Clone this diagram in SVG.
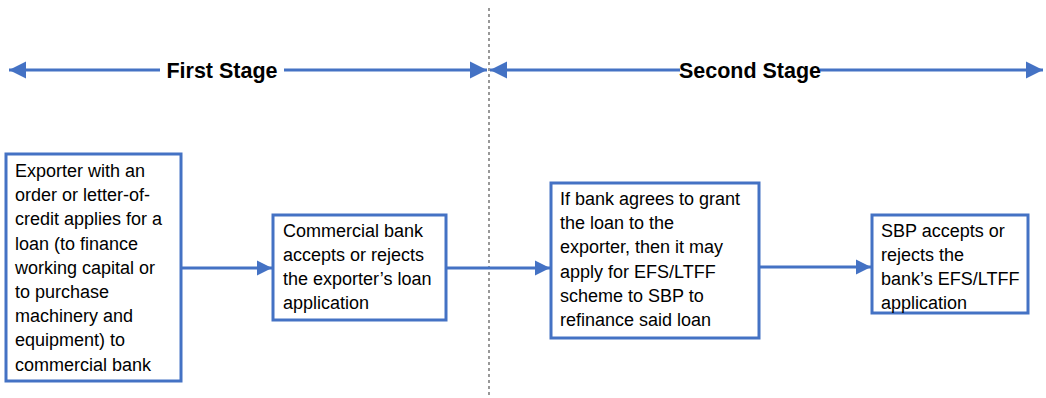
<svg xmlns="http://www.w3.org/2000/svg" width="1046" height="398" viewBox="0 0 1046 398">
  <style>
    .box { fill: #ffffff; stroke: #4472C4; stroke-width: 3; }
    .txt { font-family: "Liberation Sans", Arial, sans-serif; font-size: 18px; fill: #000000; }
    .stage { font-family: "Liberation Sans", Arial, sans-serif; font-size: 21.5px; font-weight: bold; fill: #000000; text-anchor: middle; }
    .conn { stroke: #4472C4; stroke-width: 3; fill: none; }
    .divider { stroke: #555555; stroke-width: 1.2; stroke-dasharray: 3 3; fill: none; }
  </style>
  <defs>
    <marker id="ah" markerUnits="userSpaceOnUse" markerWidth="16" markerHeight="16" viewBox="0 0 16 16" refX="15" refY="8" orient="auto">
      <path d="M0,0.5 L15,8 L0,15.5 Z" fill="#4472C4"/>
    </marker>
    <marker id="ahs" markerUnits="userSpaceOnUse" markerWidth="18" markerHeight="18" viewBox="0 0 18 18" refX="17" refY="9" orient="auto-start-reverse">
      <path d="M0,0.5 L17,9 L0,17.5 Z" fill="#4472C4"/>
    </marker>
  </defs>
  <rect x="0" y="0" width="1046" height="398" fill="#ffffff"/>

  <line class="divider" x1="489" y1="8" x2="489" y2="398"/>

  <g id="stage-arrows">
    <line class="conn" x1="9" y1="70" x2="160" y2="70" marker-start="url(#ahs)"/>
    <line class="conn" x1="284" y1="70" x2="487" y2="70" marker-end="url(#ahs)"/>
    <line class="conn" x1="490" y1="70" x2="680" y2="70" marker-start="url(#ahs)"/>
    <line class="conn" x1="820" y1="70" x2="1043" y2="70" marker-end="url(#ahs)"/>
  </g>
  <g id="stage-labels">
    <text class="stage" x="222" y="78">First Stage</text>
    <text class="stage" x="750" y="78">Second Stage</text>
  </g>

  <g id="connectors">
    <line class="conn" x1="181" y1="268" x2="272" y2="268" marker-end="url(#ah)"/>
    <line class="conn" x1="446" y1="268" x2="550" y2="268" marker-end="url(#ah)"/>
    <line class="conn" x1="759" y1="267" x2="871" y2="267" marker-end="url(#ah)"/>
  </g>

  <g id="node-exporter">
    <rect class="box" x="6" y="154" width="175" height="227"/>
    <text class="txt">
      <tspan x="15" y="177">Exporter with an</tspan>
      <tspan x="15" y="201">order or letter-of-</tspan>
      <tspan x="15" y="225">credit applies for a</tspan>
      <tspan x="15" y="250">loan (to finance</tspan>
      <tspan x="15" y="274">working capital or</tspan>
      <tspan x="15" y="298">to purchase</tspan>
      <tspan x="15" y="322">machinery and</tspan>
      <tspan x="15" y="346">equipment) to</tspan>
      <tspan x="15" y="371">commercial bank</tspan>
    </text>
  </g>

  <g id="node-bank">
    <rect class="box" x="273" y="215" width="173" height="105"/>
    <text class="txt">
      <tspan x="283" y="237">Commercial bank</tspan>
      <tspan x="283" y="261">accepts or rejects</tspan>
      <tspan x="283" y="285">the exporter’s loan</tspan>
      <tspan x="283" y="309">application</tspan>
    </text>
  </g>

  <g id="node-refinance">
    <rect class="box" x="551" y="183" width="208" height="155"/>
    <text class="txt">
      <tspan x="560" y="205">If bank agrees to grant</tspan>
      <tspan x="560" y="229">the loan to the</tspan>
      <tspan x="560" y="253">exporter, then it may</tspan>
      <tspan x="560" y="278">apply for EFS/LTFF</tspan>
      <tspan x="560" y="302">scheme to SBP to</tspan>
      <tspan x="560" y="326">refinance said loan</tspan>
    </text>
  </g>

  <g id="node-sbp">
    <rect class="box" x="872" y="215" width="156" height="98"/>
    <text class="txt">
      <tspan x="881" y="237">SBP accepts or</tspan>
      <tspan x="881" y="261">rejects the</tspan>
      <tspan x="881" y="285">bank’s EFS/LTFF</tspan>
      <tspan x="881" y="309">application</tspan>
    </text>
  </g>
</svg>
